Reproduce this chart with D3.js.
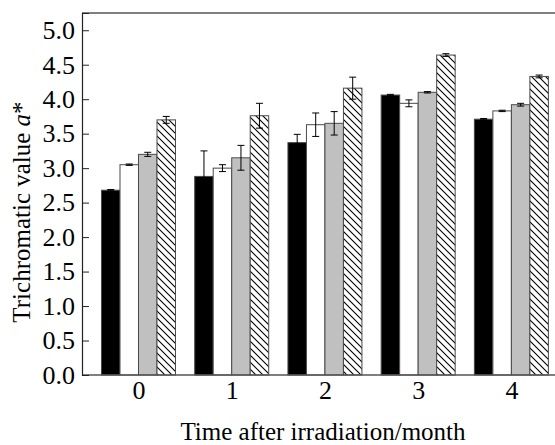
<!DOCTYPE html>
<html><head><meta charset="utf-8">
<script src="https://cdn.jsdelivr.net/npm/d3@7"></script>
<style>body{margin:0;background:#fff} svg text{font-family:'Liberation Serif','DejaVu Serif',serif;}</style>
</head><body>
<script>
const months = [0, 1, 2, 3, 4];
const seriesNames = ["s1", "s2", "s3", "s4"];
const values = [
  [2.68, 2.88, 3.37, 4.06, 3.71],
  [3.05, 3.00, 3.63, 3.94, 3.83],
  [3.20, 3.15, 3.65, 4.10, 3.92],
  [3.70, 3.76, 4.16, 4.64, 4.33]
];
const errors = [
  [0.01, 0.37, 0.12, 0.01, 0.01],
  [0.01, 0.05, 0.17, 0.05, 0.01],
  [0.03, 0.18, 0.17, 0.01, 0.02],
  [0.05, 0.18, 0.16, 0.02, 0.02]
];
const yTicks = [0, 0.5, 1, 1.5, 2, 2.5, 3, 3.5, 4, 4.5, 5];

const W = 555, H = 445;
const L = 82, T = 13, B = 375, R = 558;
const FS = 26;
const svg = d3.select("body").append("svg").attr("width", W).attr("height", H);
const defs = svg.append("defs");
const pat = defs.append("pattern").attr("id", "hatch").attr("patternUnits", "userSpaceOnUse")
  .attr("width", 7).attr("height", 7);
pat.append("rect").attr("width", 7).attr("height", 7).attr("fill", "#fff");
pat.append("path").attr("d", "M-1,-1 L8,8 M-1,6 L1,8 M6,-1 L8,1").attr("stroke", "#000").attr("stroke-width", 1.1);

const fills = ["#000", "#fff", "#c0c0c0", "url(#hatch)"];

const x = d3.scaleLinear().domain([-0.606, 4.5]).range([L, R]);
const inner = d3.scaleBand().domain(seriesNames).range([-37, 37]);
const y = d3.scaleLinear().domain([0, 5.25]).range([B, T]);

// bars
seriesNames.forEach((s, si) => {
  const g = svg.append("g");
  g.selectAll("rect").data(months).join("rect")
    .attr("x", d => x(d) + inner(s))
    .attr("width", inner.bandwidth())
    .attr("y", (d, i) => y(values[si][i]))
    .attr("height", (d, i) => y(0) - y(values[si][i]))
    .attr("fill", fills[si])
    .attr("stroke", "#4a4a4a").attr("stroke-width", 1);
});
// error bars
seriesNames.forEach((s, si) => {
  const g = svg.append("g").attr("stroke", "#000").attr("stroke-width", 1);
  months.forEach((d, i) => {
    const cx = x(d) + inner(s) + inner.bandwidth() / 2;
    const v = values[si][i], e = errors[si][i];
    g.append("line").attr("x1", cx).attr("x2", cx).attr("y1", y(v - e)).attr("y2", y(v + e));
    g.append("line").attr("x1", cx - 3.5).attr("x2", cx + 3.5).attr("y1", y(v + e)).attr("y2", y(v + e));
    g.append("line").attr("x1", cx - 3.5).attr("x2", cx + 3.5).attr("y1", y(v - e)).attr("y2", y(v - e));
  });
});

// frame
svg.append("line").attr("x1", L).attr("x2", W + 2).attr("y1", T).attr("y2", T).attr("stroke", "#000").attr("stroke-width", 1.2);
svg.append("line").attr("x1", L).attr("x2", W + 2).attr("y1", B).attr("y2", B).attr("stroke", "#555").attr("stroke-width", 1.4);

// y axis
const yAxis = d3.axisLeft(y).tickValues(yTicks).tickSize(-7).tickPadding(8).tickFormat(d3.format(".1f"));
const ya = svg.append("g").attr("transform", `translate(${L},0)`).call(yAxis)
  .attr("font-family", null).attr("font-size", FS);
ya.select(".domain").attr("stroke", "#222").attr("stroke-width", 1.2);
ya.selectAll(".tick line").attr("stroke", "#222");
ya.selectAll("text").attr("fill", "#000").attr("x", -7).style("font-size", FS + "px");

// x axis labels
const xAxis = d3.axisBottom(x).tickValues(months).tickSize(0).tickPadding(6).tickFormat(d3.format("d"));
const xa = svg.append("g").attr("transform", `translate(0,${B})`).call(xAxis)
  .attr("font-family", null).attr("font-size", FS);
xa.select(".domain").remove();
xa.selectAll("text").attr("fill", "#000").style("font-size", FS + "px");

// titles
svg.append("text").attr("x", 323).attr("y", 440).attr("text-anchor", "middle")
  .attr("font-size", 25).text("Time after irradiation/month");
const yt = svg.append("text").attr("transform", `translate(30,212) rotate(-90)`)
  .attr("text-anchor", "middle").attr("font-size", 25);
yt.append("tspan").text("Trichromatic value ");
yt.append("tspan").attr("font-style", "italic").text("a");
yt.append("tspan").text("*");
</script>
</body></html>
